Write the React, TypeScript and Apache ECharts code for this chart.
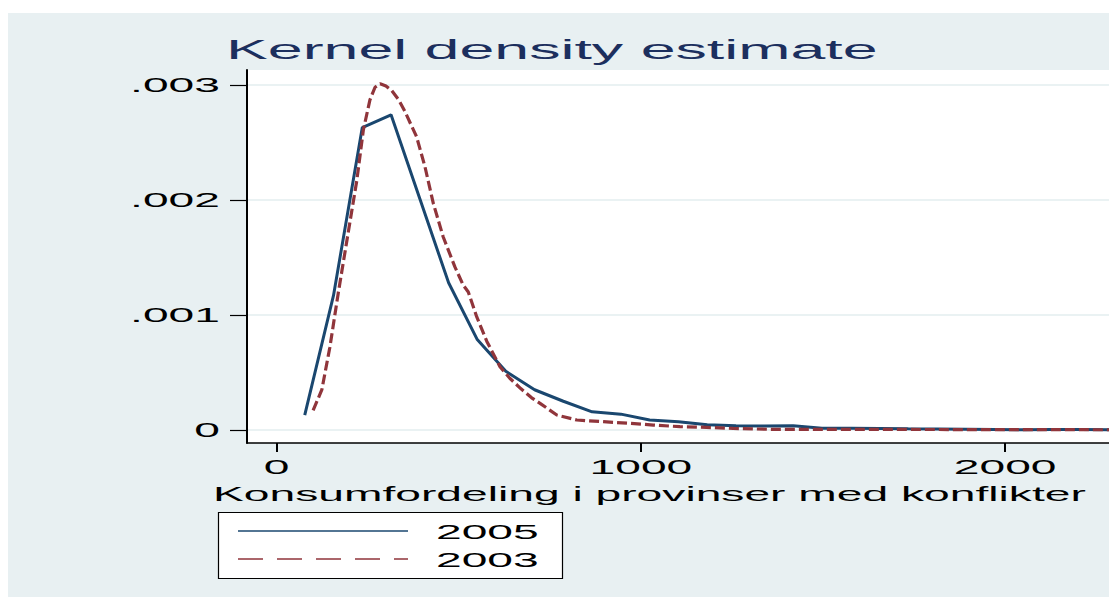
import React, { useEffect, useRef } from "react";
import * as echarts from "echarts";

const TITLE = "Kernel density estimate";
const X_TITLE = "Konsumfordeling i provinser med konflikter";
const X_TICKS = [0, 1000, 2000];
const X_TICK_LABELS = ["0", "1000", "2000"];
const Y_TICKS = [0, 0.001, 0.002, 0.003];
const Y_TICK_LABELS = ["0", ".001", ".002", ".003"];
const SERIES_NAMES = ["2005", "2003"];

const X_MIN = -81.5;
const X_MAX = 2285;
const Y_MIN = -0.000113;
const Y_MAX = 0.00313;

const X_2005 = [77, 156, 235, 314, 393, 472, 550, 629, 708, 787, 866, 945, 1024, 1103, 1182, 1261, 1339, 1418, 1497, 1576, 1655, 1734, 1813, 1892, 1971, 2050, 2129, 2208, 2287, 2366];
const Y_2005 = [0.00013, 0.00117, 0.00263, 0.00274, 0.00201, 0.00128, 0.00079, 0.00051, 0.00035, 0.00025, 0.000158, 0.000138, 0.000087, 0.000072, 0.000045, 0.000036, 0.000035, 0.000037, 0.000016, 0.000015, 0.000013, 0.00001, 0.000008, 0.000006, 0.000004, 0.000002, 0.000004, 0.000004, 0.000003, 0.000002];

const X_2003 = [100, 124, 146, 169, 196, 220, 238, 256, 270, 284, 300, 316, 335, 352, 384, 407, 430, 457, 489, 512, 526, 549, 577, 613, 640, 670, 700, 723, 769, 824, 897, 970, 1034, 1107, 1180, 1253, 1354, 1445, 1550, 1700, 1850, 2000, 2150, 2300];
const Y_2003 = [0.00017, 0.00035, 0.00072, 0.00119, 0.00171, 0.00217, 0.00261, 0.00287, 0.00298, 0.00301, 0.00299, 0.00295, 0.00287, 0.00277, 0.00255, 0.00229, 0.00197, 0.00168, 0.00142, 0.00126, 0.0012, 0.000985, 0.00077, 0.00055, 0.00045, 0.00036, 0.00028, 0.000232, 0.00013, 0.000087, 0.000072, 0.000058, 0.000043, 0.000029, 0.000023, 0.000014, 0.000006, 0.000006, 0.000005, 0.000005, 0.000004, 0.000003, 0.000003, 0.000002];

const BLUE = "#1a476f";
const RED = "#90353b";
const BG = "#e8f0f2";
const FONT = "'Liberation Sans', Arial, Helvetica, sans-serif";
const SX = 2.2;

export default function App() {
  const ref = useRef<HTMLDivElement>(null);
  useEffect(() => {
    document.body.style.margin = "0";
    const chart = echarts.init(ref.current!, null, { renderer: "svg" });
    chart.setOption({
      animation: false,
      backgroundColor: BG,
      grid: {
        left: 239,
        top: 57,
        right: 0,
        bottom: 154,
        show: true,
        backgroundColor: "#ffffff",
        borderWidth: 0,
      },
      xAxis: {
        type: "value",
        min: X_MIN,
        max: X_MAX,
        axisLine: { show: true, onZero: false, lineStyle: { color: "#000", width: 1.5 } },
        axisTick: { show: true, customValues: X_TICKS, length: 9, lineStyle: { color: "#000", width: 2 } },
        axisLabel: { show: false, customValues: X_TICKS },
        splitLine: { show: false },
      },
      yAxis: {
        type: "value",
        min: Y_MIN,
        max: Y_MAX,
        axisLine: { show: true, onZero: false, lineStyle: { color: "#000", width: 2 } },
        axisTick: { show: true, customValues: Y_TICKS, length: 17, lineStyle: { color: "#000", width: 1.2 } },
        axisLabel: { show: false, customValues: Y_TICKS },
        splitLine: { show: true, lineStyle: { color: "#eaf2f3", width: 2 } },
      },
      series: [
        {
          type: "line",
          name: SERIES_NAMES[0],
          data: X_2005.map((x, i) => [x, Y_2005[i]]),
          symbol: "none",
          clip: true,
          lineStyle: { color: BLUE, width: 3 },
        },
        {
          type: "line",
          name: SERIES_NAMES[1],
          data: X_2003.map((x, i) => [x, Y_2003[i]]),
          symbol: "none",
          clip: true,
          lineStyle: { color: RED, width: 3.2, type: [10, 4] },
        },
      ],
    });

    const px = (v: number) => (chart.convertToPixel({ gridIndex: 0 }, [v, 0]) as number[])[0];
    const py = (v: number) => (chart.convertToPixel({ gridIndex: 0 }, [0, v]) as number[])[1];

    const txt = (text: string, x: number, y: number, size: number, align: string, color = "#000") => ({
      type: "text",
      x,
      y,
      scaleX: SX,
      style: { text, fill: color, fontSize: size, fontFamily: FONT, align, verticalAlign: "middle" },
    });

    const graphics: any[] = [];
    graphics.push(txt(TITLE, 218, 36, 28.5, "left", "#1c2f5e"));
    Y_TICKS.forEach((v, i) => graphics.push(txt(Y_TICK_LABELS[i], 212, py(v), 21, "right")));
    X_TICKS.forEach((v, i) => graphics.push(txt(X_TICK_LABELS[i], px(v), 454, 21, "center")));
    graphics.push(txt(X_TITLE, 205, 481, 21, "left"));
    // legend
    graphics.push({
      type: "rect",
      shape: { x: 210.5, y: 499.5, width: 344, height: 66 },
      style: { fill: "#fff", stroke: "#000", lineWidth: 1.2 },
    });
    graphics.push({
      type: "line",
      shape: { x1: 230, y1: 518, x2: 400, y2: 518 },
      style: { stroke: BLUE, lineWidth: 1.5 },
    });
    graphics.push({
      type: "line",
      shape: { x1: 230, y1: 546, x2: 400, y2: 546 },
      style: { stroke: RED, lineWidth: 1.5, lineDash: [25, 14] },
    });
    graphics.push(txt(SERIES_NAMES[0], 428, 519, 21, "left"));
    graphics.push(txt(SERIES_NAMES[1], 428, 547, 21, "left"));

    chart.setOption({ graphic: graphics });

    return () => chart.dispose();
  }, []);

  return (
    <div style={{ position: "relative", width: 1109, height: 597, background: "#fff" }}>
      <div ref={ref} style={{ position: "absolute", left: 8, top: 13, width: 1101, height: 584 }} />
    </div>
  );
}
